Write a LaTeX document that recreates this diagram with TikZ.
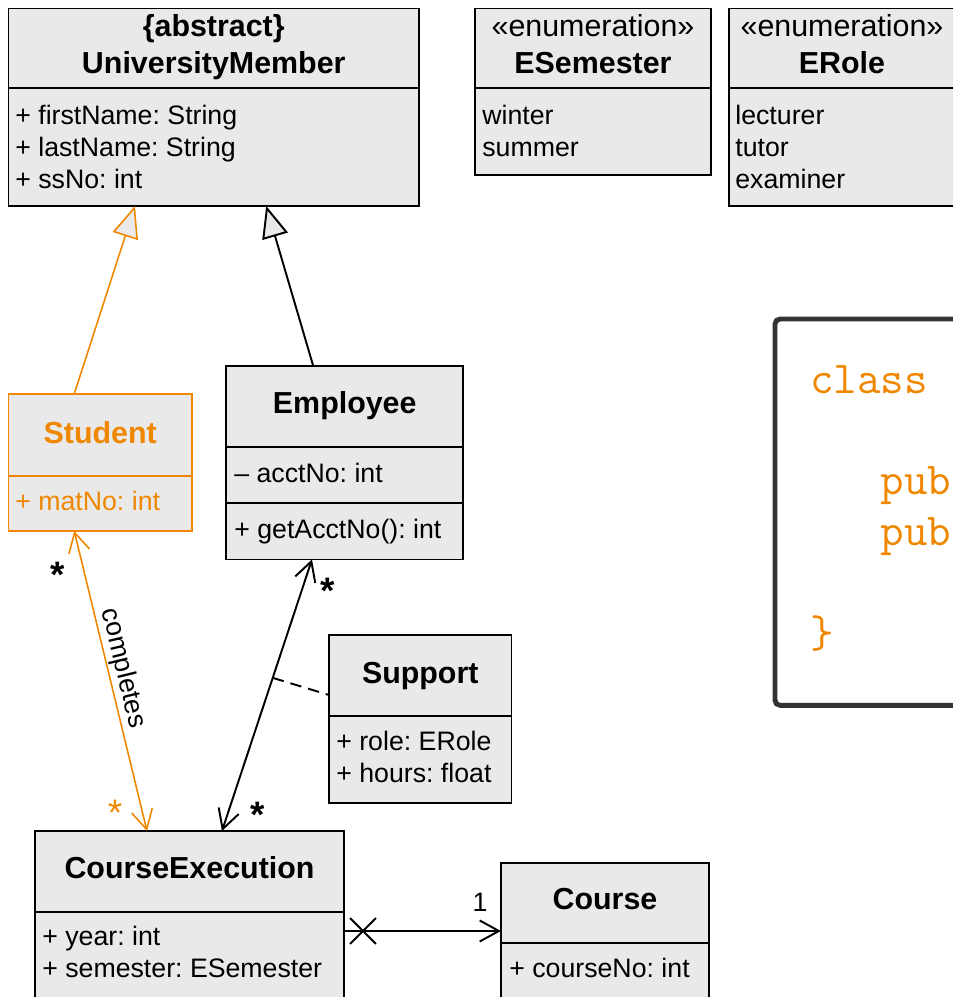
\documentclass[tikz,border=0pt]{standalone}
\usepackage{fontspec}
\setmainfont{Liberation Sans}
\usepackage{xcolor}
\usetikzlibrary{arrows.meta}
\usetikzlibrary{shapes.misc}
\usetikzlibrary{positioning}
\frenchspacing

\definecolor{umlfill}{RGB}{233,233,233}
\definecolor{umlorange}{RGB}{240,135,0}
\definecolor{codegray}{RGB}{51,51,51}

\tikzset{
    umlbox/.style={draw, line width=1.1pt, fill=umlfill, inner sep=0pt, outer sep=0pt, anchor=north west},
    umlsep/.style={line width=1.1pt},
    umltitle/.style={font=\fontsize{17.3}{21}\selectfont\bfseries, inner sep=0pt, anchor=base},
    umlstereo/.style={font=\fontsize{17.3}{21}\selectfont, inner sep=0pt, anchor=base},
    % multi-line: base is the last line
    umlattr/.style={font=\fontsize{15.2}{18.14}\selectfont, align=left, inner sep=0pt, anchor=base west},
    mult/.style={font=\fontsize{21}{24}\selectfont\bfseries, inner sep=0pt},
    gen/.style={line width=1.1pt, -{Triangle[length=18pt, width=15pt, fill=umlfill]}},
}

\begin{document}
\begin{tikzpicture}[x=0.02cm, y=-0.02cm, >={Straight Barb[length=11pt, width=12pt]}]
            \useasboundingbox (0,0) rectangle (953,997);
            \clip (0,0) rectangle (953,997);

            % classes
            \node[umlbox, minimum width=8.21cm, minimum height=3.95cm] (member) at (8.5,8.5) {};
            \draw[umlsep] (member.west |- 0,88) -- (member.east |- 0,88);
            \node[umltitle] (member-tag) at (213.75,37) {\{abstract\}};
            \node[umltitle] (member-name) at (213.75,74) {UniversityMember};
            \node[umlattr] (member-attr) at (15,188) {+ firstName: String\\+ lastName: String\\+ ssNo: int};

            \node[umlbox, minimum width=4.72cm, minimum height=3.33cm] (semester) at (475,8.5) {};
            \draw[umlsep] (semester.west |- 0,88) -- (semester.east |- 0,88);
            \node[umlstereo] (semester-tag) at (593,37) {«enumeration»};
            \node[umltitle] (semester-name) at (593,74) {ESemester};
            \node[umlattr] (semester-attr) at (482,156) {winter\\summer};

            \node[umlbox, minimum width=4.52cm, minimum height=3.95cm] (role) at (729,8.5) {};
            \draw[umlsep] (role.west |- 0,88) -- (role.east |- 0,88);
            \node[umlstereo] (role-tag) at (842,37) {«enumeration»};
            \node[umltitle] (role-name) at (842,74) {ERole};
            \node[umlattr] (role-attr) at (735,188) {lecturer\\tutor\\examiner};

            \node[umlbox, draw=umlorange, line width=0.9pt, minimum width=3.67cm, minimum height=2.74cm] (student) at (8.5,394) {};
            \draw[umlsep, umlorange, line width=0.9pt] (student.west |- 0,476) -- (student.east |- 0,476);
            \node[umltitle, text=umlorange] (student-name) at (100.25,443) {Student};
            \node[umlattr, text=umlorange] (student-attr) at (15,510) {+ matNo: int};

            \node[umlbox, minimum width=4.75cm, minimum height=3.87cm] (employee) at (226,366) {};
            \draw[umlsep] (employee.west |- 0,447) -- (employee.east |- 0,447);
            \draw[umlsep] (employee.west |- 0,503) -- (employee.east |- 0,503);
            \node[umltitle] (employee-name) at (344.75,413) {Employee};
            \node[umlattr] (employee-attr) at (234,482) {– acctNo: int};
            \node[umlattr] (employee-op) at (234,538) {+ getAcctNo(): int};

            \node[umlbox, minimum width=3.65cm, minimum height=3.36cm] (support) at (329,635) {};
            \draw[umlsep] (support.west |- 0,716) -- (support.east |- 0,716);
            \node[umltitle] (support-name) at (420.25,683) {Support};
            \node[umlattr] (support-attr) at (336,782) {+ role: ERole\\+ hours: float};

            \node[umlbox, minimum width=6.18cm, minimum height=4cm] (execution) at (35,831) {};
            \draw[umlsep] (execution.west |- 0,912) -- (execution.east |- 0,912);
            \node[umltitle] (execution-name) at (189.5,878) {CourseExecution};
            \node[umlattr] (execution-attr) at (42,977) {+ year: int\\+ semester: ESemester};

            \node[umlbox, minimum width=4.16cm, minimum height=2.72cm] (course) at (501,863) {};
            \draw[umlsep] (course.west |- 0,943) -- (course.east |- 0,943);
            \node[umltitle] (course-name) at (605,909) {Course};
            \node[umlattr] (course-attr) at (509,977) {+ courseNo: int};

            % code listing
            \node[draw=codegray, line width=2.8pt, rounded corners=3pt, fill=white, inner sep=0pt, anchor=north west, minimum width=10cm, minimum height=7.73cm] (listing) at (772.5,316.5) {};
            \node[font=\fontsize{26}{28.9}\selectfont\ttfamily, text=umlorange, align=left, inner sep=0pt, anchor=base west] (listing-text) at (810,647) {class\\\mbox{}\\\phantom{xxx}pub\\\phantom{xxx}pub\\\mbox{}\\\}};

            % inheritance
            \draw[gen, draw=umlorange, line width=0.9pt] ([xshift=-0.52cm]student.north) -- ([xshift=-1.575cm]member.south);
            \draw[gen] ([xshift=-0.63cm]employee.north) -- ([xshift=1.05cm]member.south);

            % associations
            \draw[<->, umlorange, line width=0.9pt] ([xshift=-0.52cm]student.south) --
                node[pos=0.47, sloped, above, inner sep=1pt, text=black, font=\fontsize{15.2}{18}\selectfont] (completes) {completes}
                node[mult, text=black, pos=0.12, xshift=-0.5cm, yshift=-0.16cm] (student-mult) {*}
                node[mult, font=\fontsize{21}{24}\selectfont, pos=0.913, xshift=-0.51cm, yshift=-0.16cm] (completes-mult) {*}
                ([xshift=-0.85cm]execution.north);
            \draw[<->, line width=1.1pt] ([xshift=-0.655cm]employee.south) --
                coordinate[pos=0.436] (support-link)
                node[mult, pos=0.087, xshift=0.48cm, yshift=-0.16cm] (employee-mult) {*}
                node[mult, pos=0.912, xshift=0.56cm, yshift=-0.16cm] (execution-mult) {*}
                ([xshift=0.65cm]execution.north);
            \draw[line width=1.1pt, dash pattern=on 6.5pt off 4pt] (support-link) -- ([yshift=0.48cm]support.west);
            \draw[->, line width=1.1pt] (execution) --
                node[cross out, draw, line width=1.1pt, minimum size=0.48cm, inner sep=0pt, pos=0.121] (no-nav) {}
                node[font=\fontsize{15.2}{18}\selectfont, inner sep=0pt, above=10.4pt, pos=0.866] (course-mult) {1}
                (course);
        \end{tikzpicture}
\end{document}
